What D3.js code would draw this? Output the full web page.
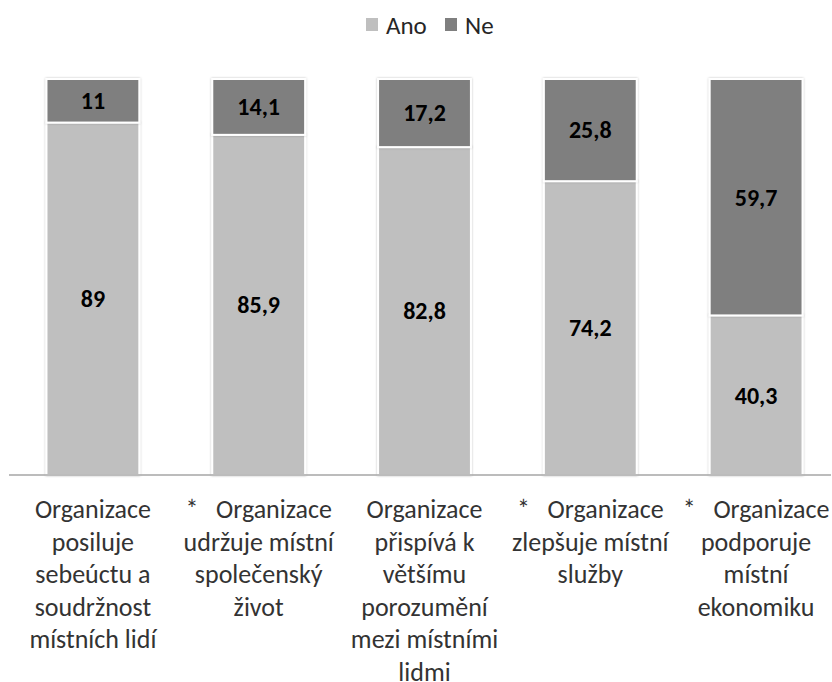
<!DOCTYPE html>
<html>
<head>
<meta charset="utf-8">
<script src="https://cdn.jsdelivr.net/npm/d3@7"></script>
<style>
  body { margin: 0; background: #fff; }
  svg text { font-family: Carlito, "Noto Sans", "Open Sans", sans-serif; }
</style>
</head>
<body>
<div id="chart"></div>
<script>
// Data
const categories = ["c1", "c2", "c3", "c4", "c5"];
const labelLines = [
    ["Organizace", "posiluje", "sebeúctu a", "soudržnost", "místních lidí"],
    ["*   Organizace", "udržuje místní", "společenský", "život"],
    ["Organizace", "přispívá k", "většímu", "porozumění", "mezi místními", "lidmi"],
    ["*   Organizace", "zlepšuje místní", "služby"],
    ["*   Organizace", "podporuje", "místní", "ekonomiku"]
];
const anoValues = [89, 85.9, 82.8, 74.2, 40.3];
const neValues = [11, 14.1, 17.2, 25.8, 59.7];
const seriesNames = ["Ano", "Ne"];
const seriesColors = ["#bfbfbf", "#7f7f7f"];

const W = 832, H = 682;
const plotTop = 79, plotBottom = 475;

const svg = d3.select("#chart").append("svg")
    .attr("width", W)
    .attr("height", H);

// soft shadow round the bars
const defs = svg.append("defs");
defs.append("filter")
    .attr("id", "shadow")
    .attr("x", "-10%").attr("y", "-10%")
    .attr("width", "120%").attr("height", "120%")
  .append("feDropShadow")
    .attr("dx", 0).attr("dy", 0)
    .attr("stdDeviation", 1.2)
    .attr("flood-color", "#000")
    .attr("flood-opacity", 0.25);

const x = d3.scaleBand()
    .domain(categories)
    .range([10, 839])
    .paddingInner(0.44)
    .paddingOuter(0.22);

const y = d3.scaleLinear()
    .domain([0, 100])
    .range([plotBottom, plotTop]);

const rows = categories.map((c, i) => ({ key: c, Ano: anoValues[i], Ne: neValues[i] }));
const stack = d3.stack().keys(seriesNames)(rows);

// bars
const groups = svg.selectAll(".series")
    .data(stack)
    .join("g")
      .attr("class", "series")
      .attr("fill", (d, i) => seriesColors[i]);

groups.selectAll("rect")
    .data(d => d)
    .join("rect")
      .attr("x", d => x(d.data.key))
      .attr("y", d => y(d[1]))
      .attr("width", x.bandwidth())
      .attr("height", d => y(d[0]) - y(d[1]))
      .attr("stroke", "#fff")
      .attr("stroke-width", 2)
      .attr("filter", "url(#shadow)");

// value labels
groups.selectAll("text")
    .data(d => d)
    .join("text")
      .attr("x", d => x(d.data.key) + x.bandwidth() / 2)
      .attr("y", d => (y(d[0]) + y(d[1])) / 2)
      .attr("dy", "0.35em")
      .attr("text-anchor", "middle")
      .attr("font-size", 24)
      .attr("font-weight", "bold")
      .attr("fill", "#000")
      .text(d => String(+(d[1] - d[0]).toFixed(1)).replace(".", ","));

// baseline
svg.append("line")
    .attr("x1", 9).attr("x2", 831)
    .attr("y1", plotBottom).attr("y2", plotBottom)
    .attr("stroke", "#a6a6a6")
    .attr("stroke-width", 1.5);

// category labels
const labels = svg.selectAll(".cat")
    .data(categories)
    .join("text")
      .attr("class", "cat")
      .attr("text-anchor", "middle")
      .attr("font-size", 26)
      .attr("fill", "#333")
      .style("white-space", "pre");

labels.selectAll("tspan")
    .data((d, i) => labelLines[i].map(t => ({ t, c: d })))
    .join("tspan")
      .attr("x", d => x(d.c) + x.bandwidth() / 2)
      .attr("y", (d, j) => 518 + j * 32.5)
      .text(d => d.t);

// legend
const legend = svg.append("g").attr("transform", "translate(366,18)");
const legendX = [0, 79];
seriesNames.forEach((name, i) => {
    const g = legend.append("g").attr("transform", `translate(${legendX[i]},0)`);
    g.append("rect")
        .attr("width", 12).attr("height", 13)
        .attr("fill", seriesColors[i]);
    g.append("text")
        .attr("x", 20).attr("y", 7)
        .attr("dy", "0.35em")
        .attr("font-size", 25)
        .attr("fill", "#262626")
        .text(name);
});
</script>
</body>
</html>
